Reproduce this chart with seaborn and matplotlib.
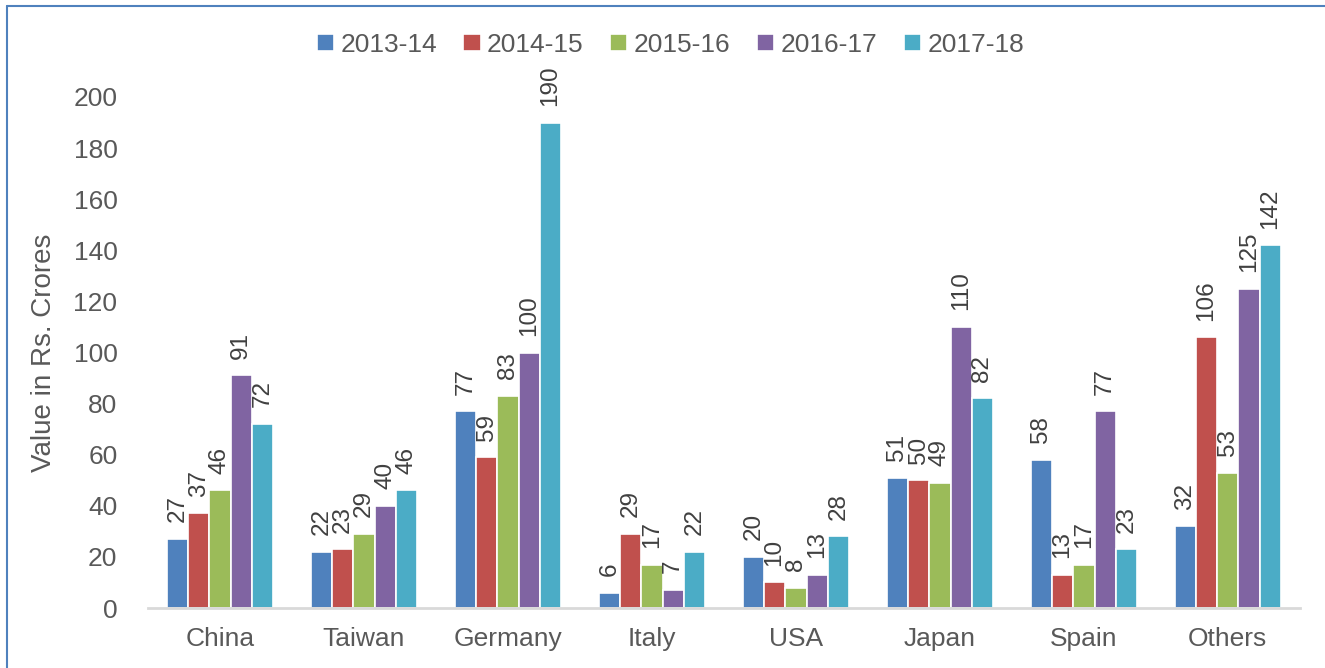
import matplotlib
matplotlib.use("Agg")
import matplotlib.pyplot as plt
import seaborn as sns
import pandas as pd
from matplotlib.lines import Line2D

countries = ["China", "Taiwan", "Germany", "Italy", "USA", "Japan", "Spain", "Others"]
years = ["2013-14", "2014-15", "2015-16", "2016-17", "2017-18"]
v_2013_14 = [27, 22, 77, 6, 20, 51, 58, 32]
v_2014_15 = [37, 23, 59, 29, 10, 50, 13, 106]
v_2015_16 = [46, 29, 83, 17, 8, 49, 17, 53]
v_2016_17 = [91, 40, 100, 7, 13, 110, 77, 125]
v_2017_18 = [72, 46, 190, 22, 28, 82, 23, 142]
series = [v_2013_14, v_2014_15, v_2015_16, v_2016_17, v_2017_18]
palette = ["#4F81BD", "#C0504D", "#9BBB59", "#8064A2", "#4BACC6"]

rows = []
for yr, vals in zip(years, series):
    for c, v in zip(countries, vals):
        rows.append({"Country": c, "Year": yr, "Value": v})
df = pd.DataFrame(rows)

sns.set_theme(style="white")
plt.rcParams["font.family"] = ["Liberation Sans", "DejaVu Sans"]
text_color = "#595959"

fig = plt.figure(figsize=(13.25, 6.68), dpi=100)
ax = fig.add_axes([0.1117, 0.0898, 0.8693, 0.7650])

sns.barplot(data=df, x="Country", y="Value", hue="Year", hue_order=years,
            order=countries, palette=palette, saturation=1, width=0.74,
            edgecolor="white", linewidth=1.2, ax=ax, legend=True)

for cont in ax.containers:
    ax.bar_label(cont, labels=[f"{int(round(b.get_height()))}" for b in cont],
                 rotation=90, padding=12, fontsize=17.5, color="#404040")

ax.set_ylim(0, 200)
ax.set_yticks(range(0, 201, 20))
ax.set_xlim(-0.5, len(countries) - 0.5)
ax.set_xlabel("")
ax.set_ylabel("Value in Rs. Crores", fontsize=20, color=text_color, labelpad=12)
ax.tick_params(axis="y", length=0, pad=22, labelsize=19, labelcolor=text_color)
ax.tick_params(axis="x", length=0, pad=14, labelsize=19, labelcolor=text_color)

for side in ["left", "right", "top"]:
    ax.spines[side].set_visible(False)
ax.spines["bottom"].set_color("#D9D9D9")
ax.spines["bottom"].set_linewidth(2)

leg = ax.get_legend()
handles = leg.legend_handles
leg.remove()
fig.legend(handles, years, loc="center", bbox_to_anchor=(0.506, 0.933), ncol=5,
           frameon=False, fontsize=19, handlelength=0.65, handleheight=0.65,
           handletextpad=0.25, columnspacing=1.0, labelcolor=text_color)

# chart frame edges
fig.add_artist(Line2D([0.0053, 1.0], [0.9915, 0.9915], color="#4F81BD", lw=1.5,
                      transform=fig.transFigure))
fig.add_artist(Line2D([0.0053, 0.0053], [0.0, 0.9915], color="#4F81BD", lw=1.5,
                      transform=fig.transFigure))

fig.savefig("out.png", dpi=100)
